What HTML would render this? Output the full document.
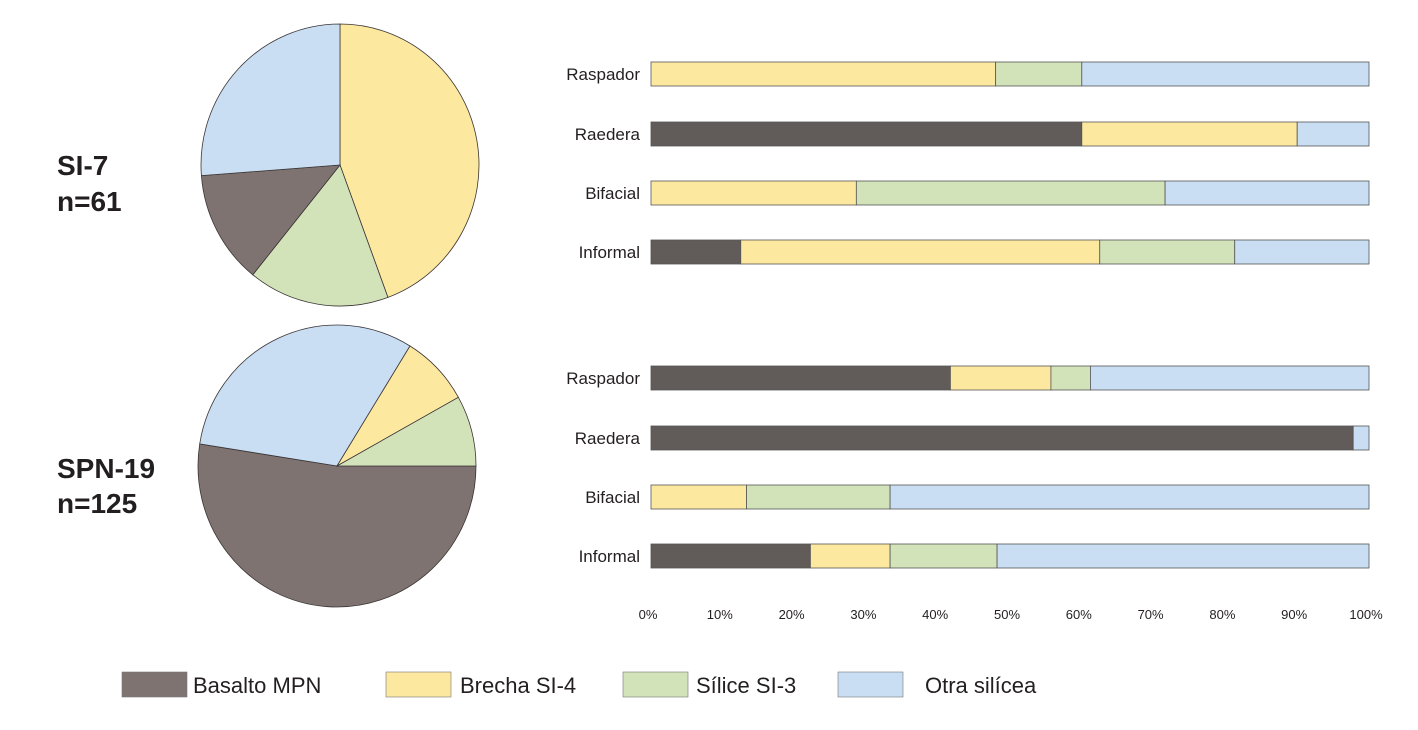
<!DOCTYPE html>
<html><head><meta charset="utf-8"><style>
body{margin:0;background:#fff;font-family:"Liberation Sans",sans-serif}
svg{display:block}
</style></head><body>
<svg id="c" width="1418" height="730">
<g id="pies"></g><g id="bars"></g><g id="ticks"></g>
<text x="57" y="175" font-size="28" font-weight="bold" fill="#231f20">SI-7</text>
<text x="57" y="211" font-size="28" font-weight="bold" fill="#231f20">n=61</text>
<text x="57" y="478" font-size="28" font-weight="bold" fill="#231f20">SPN-19</text>
<text x="57" y="513" font-size="28" font-weight="bold" fill="#231f20">n=125</text>
<g id="legend"></g>
</svg>
<script>
const materials=["Basalto MPN","Brecha SI-4","Sílice SI-3","Otra silícea"];
const pieColors=["#7f7371","#fde8a0","#d3e3b9","#c9def3"];
const barColors=["#615c5a","#fde8a0","#d3e3b9","#c9def3"];
const categories=["Raspador","Raedera","Bifacial","Informal"];
const si7Pie=[13,44.4,16.4,26.2];
const spnPie=[52.5,8.1,8.1,31.3];
const si7Basalto=[0,60,0,12.5];
const si7Brecha=[48,30,28.6,50];
const si7Silice=[12,0,43,18.8];
const si7Otra=[40,10,28.4,18.7];
const spnBasalto=[41.7,97.8,0,22.2];
const spnBrecha=[14,0,13.3,11.1];
const spnSilice=[5.5,0,20,14.9];
const spnOtra=[38.8,2.2,66.7,51.8];
const tickVals=[0,10,20,30,40,50,60,70,80,90,100];
const NS="http://www.w3.org/2000/svg";
function mk(t,a,p){const e=document.createElementNS(NS,t);for(const k in a)e.setAttribute(k,a[k]);p.appendChild(e);return e;}
const x0=651,x1=1369;
const xs=v=>x0+(x1-x0)*v/100;
// pies: order clockwise from start angle
function pie(cx,cy,rx,ry,vals,order,startDeg,name){
  const g=document.getElementById('pies');
  const tot=vals.reduce((a,b)=>a+b,0);let a=startDeg;
  order.forEach(i=>{
    const sw=vals[i]/tot*360;const a2=a+sw;
    const p=d=>[cx+rx*Math.sin(d*Math.PI/180),cy-ry*Math.cos(d*Math.PI/180)];
    const [sx,sy]=p(a),[ex,ey]=p(a2);
    const el=mk('path',{d:`M${cx},${cy}L${sx},${sy}A${rx},${ry} 0 ${sw>180?1:0} 1 ${ex},${ey}Z`,fill:pieColors[i],stroke:"#3a3535","stroke-width":"0.8"},g);
    
    
    a=a2;
  });
}
pie(340,165,139,141,si7Pie,[1,2,0,3],0,'si7');
pie(337,466,139,141,spnPie,[0,3,1,2],90,'spn19');
function group(rowsY,series,name){
  const g=document.getElementById('bars');
  categories.forEach((c,ci)=>{
    const y=rowsY[ci];let acc=0;
    const t=mk('text',{x:640,y:y+6,'text-anchor':'end','font-size':17,fill:'#231f20'},g);t.textContent=c;
    
    
    series.forEach((s,si)=>{
      const v=s[ci];if(v<=0)return;
      const r=mk('rect',{x:xs(acc),y:y-12,width:xs(acc+v)-xs(acc),height:24,fill:barColors[si],stroke:"#555","stroke-width":"0.8"},g);
      
      
      acc+=v;
    });
  });
}
group([74,134,193,252],[si7Basalto,si7Brecha,si7Silice,si7Otra],'si7');
group([378,438,497,556],[spnBasalto,spnBrecha,spnSilice,spnOtra],'spn19');
const tg=document.getElementById('ticks');
tickVals.forEach(v=>{const t=mk('text',{x:xs(v)-3,y:619,'text-anchor':'middle','font-size':13,fill:'#231f20'},tg);t.textContent=v+'%';

});
const lg=document.getElementById('legend');
const lx=[122,386,623,838],tx=[193,460,696,925];
materials.forEach((m,i)=>{
  const r=mk('rect',{x:lx[i],y:672,width:65,height:25,fill:pieColors[i],stroke:"#777","stroke-width":"0.6"},lg);
  
  
  const t=mk('text',{x:tx[i],y:693,'font-size':22,fill:'#231f20'},lg);t.textContent=m;
  
  
});
</script>
</body></html>
